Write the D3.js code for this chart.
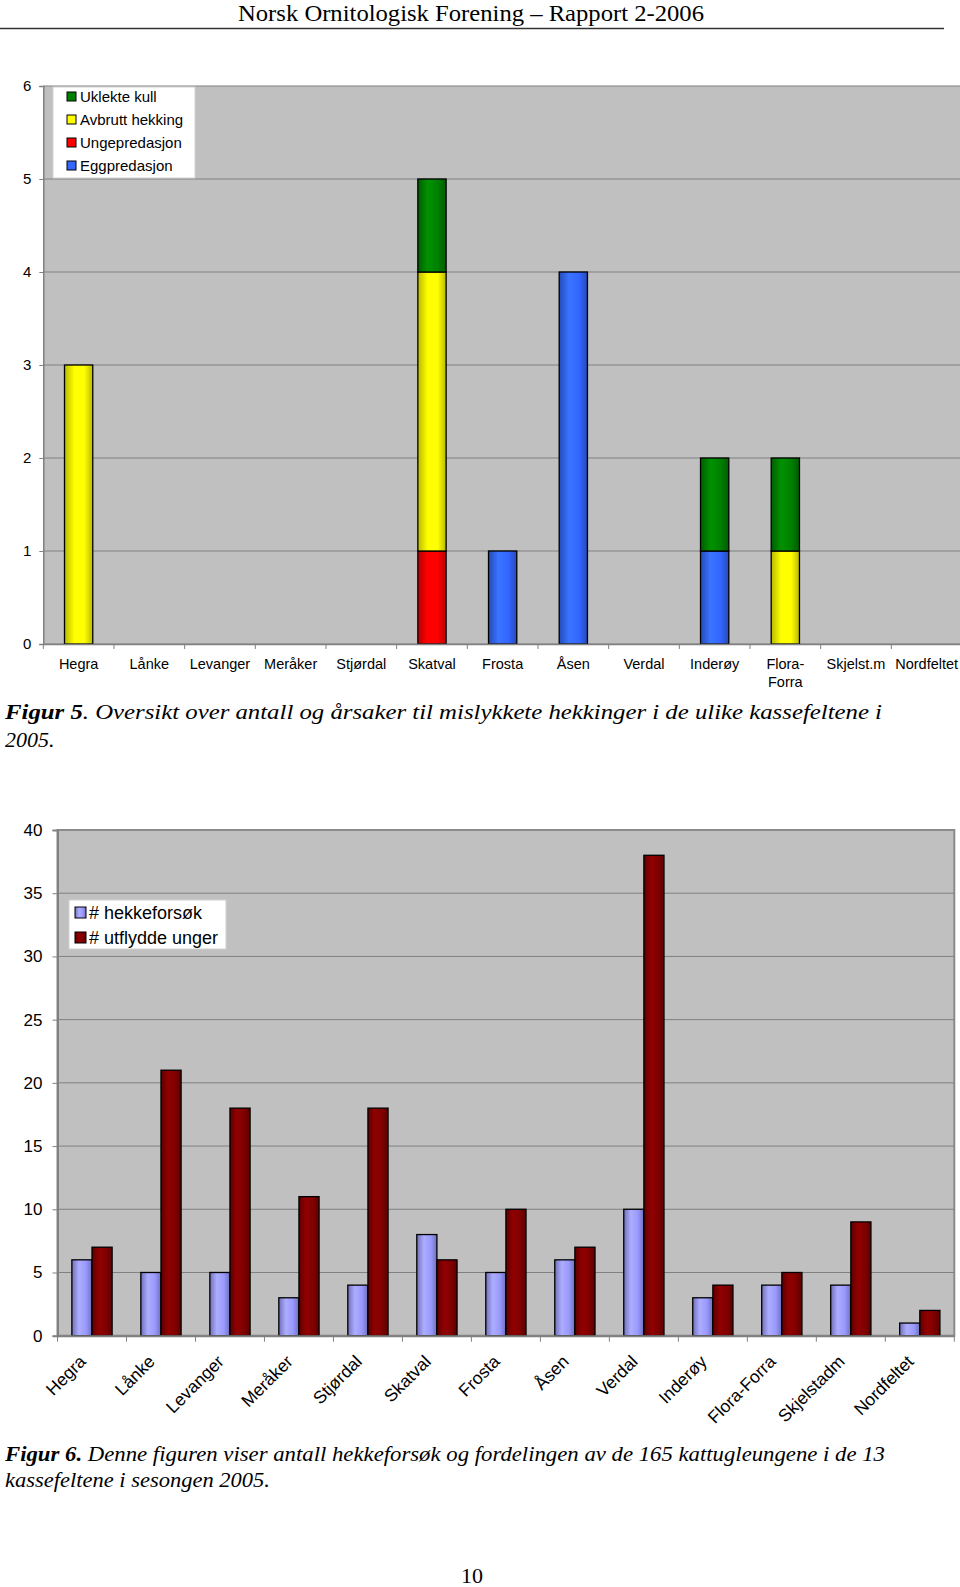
<!DOCTYPE html>
<html>
<head>
<meta charset="utf-8">
<script src="https://cdn.jsdelivr.net/npm/d3@7"></script>
<style>
  body { margin: 0; background: #fff; }
  svg { display: block; }
</style>
</head>
<body>
<div id="page"></div>
<script>
// --- data: figure 5 (failed nestings, stacked) ---
var fields1 = ["Hegra", "Lånke", "Levanger", "Meråker", "Stjørdal", "Skatval", "Frosta", "Åsen", "Verdal", "Inderøy", "Flora-\nForra", "Skjelst.m", "Nordfeltet"];
var causes = ["Eggpredasjon", "Ungepredasjon", "Avbrutt hekking", "Uklekte kull"];
var eggpredasjon   = [0, 0, 0, 0, 0, 0, 1, 4, 0, 1, 0, 0, 0];
var ungepredasjon  = [0, 0, 0, 0, 0, 1, 0, 0, 0, 0, 0, 0, 0];
var avbruttHekking = [3, 0, 0, 0, 0, 3, 0, 0, 0, 0, 1, 0, 0];
var uklekteKull    = [0, 0, 0, 0, 0, 1, 0, 0, 0, 1, 1, 0, 0];
var ticks1 = [0, 1, 2, 3, 4, 5, 6];

// --- data: figure 6 (attempts and fledged young) ---
var fields2 = ["Hegra", "Lånke", "Levanger", "Meråker", "Stjørdal", "Skatval", "Frosta", "Åsen", "Verdal", "Inderøy", "Flora-Forra", "Skjelstadm", "Nordfeltet"];
var series2 = ["# hekkeforsøk", "# utflydde unger"];
var hekkeforsok = [6, 5, 5, 3, 4, 8, 5, 6, 10, 3, 4, 4, 1];
var utflydde    = [7, 21, 18, 11, 18, 6, 10, 7, 38, 4, 5, 9, 2];
var ticks2 = [0, 5, 10, 15, 20, 25, 30, 35, 40];

var W = 960, H = 1587;
var svg = d3.select("#page").append("svg").attr("width", W).attr("height", H);
var defs = svg.append("defs");

// cylinder-ish shading like the old Excel bars
function grad(id, base) {
  var c = d3.color(base);
  var g = defs.append("linearGradient").attr("id", id).attr("x1", "0%").attr("x2", "100%");
  g.append("stop").attr("offset", "0%").attr("stop-color", c.darker(0.9));
  g.append("stop").attr("offset", "35%").attr("stop-color", c.brighter(0.35));
  g.append("stop").attr("offset", "70%").attr("stop-color", base);
  g.append("stop").attr("offset", "100%").attr("stop-color", c.darker(0.9));
}
var colors1 = { "Eggpredasjon": "#3366ff", "Ungepredasjon": "#ff0000", "Avbrutt hekking": "#ffff00", "Uklekte kull": "#008000" };
var colors2 = { "# hekkeforsøk": "#9999ff", "# utflydde unger": "#800000" };
causes.forEach(function (k, i) { grad("g1_" + i, colors1[k]); });
series2.forEach(function (k, i) { grad("g2_" + i, colors2[k]); });

var sans = "Arial, 'Liberation Sans', sans-serif";
var serif = "'Liberation Serif', 'Times New Roman', serif";

// header
svg.append("text").attr("x", 471).attr("y", 21).attr("text-anchor", "middle")
  .style("font-family", serif).style("font-size", "24px")
  .attr("textLength", 466).attr("lengthAdjust", "spacingAndGlyphs")
  .text("Norsk Ornitologisk Forening – Rapport 2-2006");
svg.append("line").attr("x1", 0).attr("x2", 944).attr("y1", 28.5).attr("y2", 28.5)
  .attr("stroke", "#333").attr("stroke-width", 1.5);

// ================= Figure 5 =================
var c1 = { left: 43.3, right: 962, top: 86, bottom: 644 };
var x1 = d3.scaleBand().domain(fields1).range([c1.left, c1.right]).paddingInner(0).paddingOuter(0);
var y1 = d3.scaleLinear().domain([0, 6]).range([c1.bottom, c1.top]);

var g1 = svg.append("g").style("font-family", sans);
g1.append("rect").attr("x", c1.left).attr("y", c1.top).attr("width", c1.right - c1.left).attr("height", c1.bottom - c1.top)
  .attr("fill", "#c0c0c0");
g1.selectAll("line.grid").data(ticks1).enter().append("line").attr("class", "grid")
  .attr("x1", c1.left).attr("x2", c1.right).attr("y1", function (d) { return y1(d); }).attr("y2", function (d) { return y1(d); })
  .attr("stroke", "#808080").attr("stroke-width", 1);

var rows1 = fields1.map(function (f, i) {
  return { field: f, "Eggpredasjon": eggpredasjon[i], "Ungepredasjon": ungepredasjon[i], "Avbrutt hekking": avbruttHekking[i], "Uklekte kull": uklekteKull[i] };
});
var stacked = d3.stack().keys(causes)(rows1);
var bw1 = x1.bandwidth() * 0.4;
stacked.forEach(function (layer, li) {
  g1.selectAll("rect.s" + li).data(layer.filter(function (d) { return d[1] > d[0]; })).enter().append("rect")
    .attr("x", function (d) { return x1(d.data.field) + (x1.bandwidth() - bw1) / 2; })
    .attr("y", function (d) { return y1(d[1]); })
    .attr("width", bw1)
    .attr("height", function (d) { return y1(d[0]) - y1(d[1]); })
    .attr("fill", "url(#g1_" + li + ")").attr("stroke", "#000").attr("stroke-width", 1.3);
});

// axes
var ya1 = g1.append("g").attr("transform", "translate(" + c1.left + ",0)")
  .call(d3.axisLeft(y1).tickValues(ticks1).tickSize(4).tickPadding(8).tickFormat(d3.format("d")));
ya1.attr("font-size", null).attr("font-family", null);
ya1.select(".domain").attr("stroke", "#808080").attr("stroke-width", 1.5);
ya1.selectAll(".tick line").attr("stroke", "#808080");
ya1.selectAll("text").style("font-size", "15px").attr("fill", "#000").style("font-family", sans);

var xa1 = g1.append("g").attr("transform", "translate(0," + c1.bottom + ")")
  .call(d3.axisBottom(x1).tickSize(0).tickFormat(""));
xa1.select(".domain").attr("stroke", "#808080").attr("stroke-width", 1.5);
g1.selectAll("line.xt").data(fields1).enter().append("line").attr("class", "xt")
  .attr("x1", function (d) { return x1(d); }).attr("x2", function (d) { return x1(d); })
  .attr("y1", c1.bottom).attr("y2", c1.bottom + 5).attr("stroke", "#808080");
var xl1 = g1.selectAll("text.xl").data(fields1).enter().append("text").attr("class", "xl")
  .attr("text-anchor", "middle").style("font-size", "14.5px")
  .attr("transform", function (d) { return "translate(" + (x1(d) + x1.bandwidth() / 2) + "," + (c1.bottom + 25) + ")"; });
xl1.selectAll("tspan").data(function (d) { return d.split("\n"); }).enter().append("tspan")
  .attr("x", 0).attr("dy", function (d, i) { return i ? 17.5 : 0; }).text(function (d) { return d; });

// legend 1
var leg1 = g1.append("g").attr("transform", "translate(53,87)");
leg1.append("rect").attr("width", 142).attr("height", 91).attr("fill", "#fff").attr("stroke", "#d0d0d0");
causes.slice().reverse().forEach(function (k, i) {
  var yy = 10 + i * 23;
  leg1.append("rect").attr("x", 14).attr("y", yy - 5).attr("width", 9).attr("height", 9)
    .attr("fill", colors1[k]).attr("stroke", "#000");
  leg1.append("text").attr("x", 27).attr("y", yy + 5).style("font-size", "15px").text(k);
});

// caption 5
var cap1 = svg.append("text").attr("x", 5).attr("y", 719).style("font-family", serif).style("font-size", "22px")
  .style("font-style", "italic").attr("textLength", 877).attr("lengthAdjust", "spacingAndGlyphs");
cap1.append("tspan").style("font-weight", "bold").text("Figur 5");
cap1.append("tspan").text(". Oversikt over antall og årsaker til mislykkete hekkinger i de ulike kassefeltene i");
svg.append("text").attr("x", 5).attr("y", 747).style("font-family", serif).style("font-size", "22px")
  .style("font-style", "italic").text("2005.");

// ================= Figure 6 =================
var c2 = { left: 57.5, right: 954.3, top: 830, bottom: 1335.7 };
var x2 = d3.scaleBand().domain(fields2).range([c2.left, c2.right]);
var xs2 = d3.scaleBand().domain(series2).range([0, x2.bandwidth()]).paddingInner(0).paddingOuter(0.714);
var y2 = d3.scaleLinear().domain([0, 40]).range([c2.bottom, c2.top]);

var g2 = svg.append("g").style("font-family", sans);
g2.append("rect").attr("x", c2.left).attr("y", c2.top).attr("width", c2.right - c2.left).attr("height", c2.bottom - c2.top)
  .attr("fill", "#c0c0c0").attr("stroke", "#8a8a8a").attr("stroke-width", 2);
g2.selectAll("line.grid").data(ticks2.slice(1, -1)).enter().append("line").attr("class", "grid")
  .attr("x1", c2.left).attr("x2", c2.right).attr("y1", function (d) { return y2(d); }).attr("y2", function (d) { return y2(d); })
  .attr("stroke", "#808080").attr("stroke-width", 1);

var rows2 = fields2.map(function (f, i) { return { field: f, vals: [hekkeforsok[i], utflydde[i]] }; });
var grp = g2.selectAll("g.grp").data(rows2).enter().append("g").attr("class", "grp")
  .attr("transform", function (d) { return "translate(" + x2(d.field) + ",0)"; });
grp.selectAll("rect").data(function (d) { return d.vals.map(function (v, i) { return { s: series2[i], v: v, i: i }; }); })
  .enter().append("rect")
  .attr("x", function (d) { return xs2(d.s); })
  .attr("y", function (d) { return y2(d.v); })
  .attr("width", xs2.bandwidth())
  .attr("height", function (d) { return c2.bottom - y2(d.v); })
  .attr("fill", function (d) { return "url(#g2_" + d.i + ")"; })
  .attr("stroke", "#000").attr("stroke-width", 1.3);

var ya2 = g2.append("g").attr("transform", "translate(" + c2.left + ",0)")
  .call(d3.axisLeft(y2).tickValues(ticks2).tickSize(5).tickPadding(10).tickFormat(d3.format("d")));
ya2.attr("font-size", null).attr("font-family", null);
ya2.select(".domain").attr("stroke", "#808080").attr("stroke-width", 2);
ya2.selectAll(".tick line").attr("stroke", "#808080");
ya2.selectAll("text").style("font-size", "17px").attr("fill", "#000").style("font-family", sans);

var xa2 = g2.append("g").attr("transform", "translate(0," + c2.bottom + ")")
  .call(d3.axisBottom(x2).tickSize(0).tickFormat(""));
xa2.select(".domain").attr("stroke", "#808080").attr("stroke-width", 2);
g2.selectAll("line.xt").data(fields2.concat(["end"])).enter().append("line").attr("class", "xt")
  .attr("x1", function (d) { return d === "end" ? c2.right : x2(d); }).attr("x2", function (d) { return d === "end" ? c2.right : x2(d); })
  .attr("y1", c2.bottom).attr("y2", c2.bottom + 6).attr("stroke", "#808080");
g2.selectAll("text.xl").data(fields2).enter().append("text").attr("class", "xl")
  .attr("text-anchor", "end").style("font-size", "17.5px")
  .attr("transform", function (d) { return "translate(" + (x2(d) + x2.bandwidth() / 2 - 5) + "," + (c2.bottom + 27) + ") rotate(-45)"; })
  .text(function (d) { return d; });

// legend 2
var leg2 = g2.append("g").attr("transform", "translate(69,900)");
leg2.append("rect").attr("width", 157).attr("height", 49).attr("fill", "#fff").attr("stroke", "#d0d0d0");
series2.forEach(function (k, i) {
  var yy = 12.5 + i * 25;
  leg2.append("rect").attr("x", 6).attr("y", yy - 5.5).attr("width", 11).attr("height", 11)
    .attr("fill", "url(#g2_" + i + ")").attr("stroke", "#000");
  leg2.append("text").attr("x", 20).attr("y", yy + 6).style("font-size", "18px").text(k);
});

// caption 6
var cap2 = svg.append("text").attr("x", 5).attr("y", 1461).style("font-family", serif).style("font-size", "22px")
  .style("font-style", "italic").attr("textLength", 880).attr("lengthAdjust", "spacingAndGlyphs");
cap2.append("tspan").style("font-weight", "bold").text("Figur 6.");
cap2.append("tspan").text(" Denne figuren viser antall hekkeforsøk og fordelingen av de 165 kattugleungene i de 13");
svg.append("text").attr("x", 5).attr("y", 1487).style("font-family", serif).style("font-size", "22px")
  .style("font-style", "italic").attr("textLength", 265).attr("lengthAdjust", "spacingAndGlyphs")
  .text("kassefeltene i sesongen 2005.");

// page number
svg.append("text").attr("x", 472).attr("y", 1583).attr("text-anchor", "middle")
  .style("font-family", serif).style("font-size", "22px").text("10");
</script>
</body>
</html>
